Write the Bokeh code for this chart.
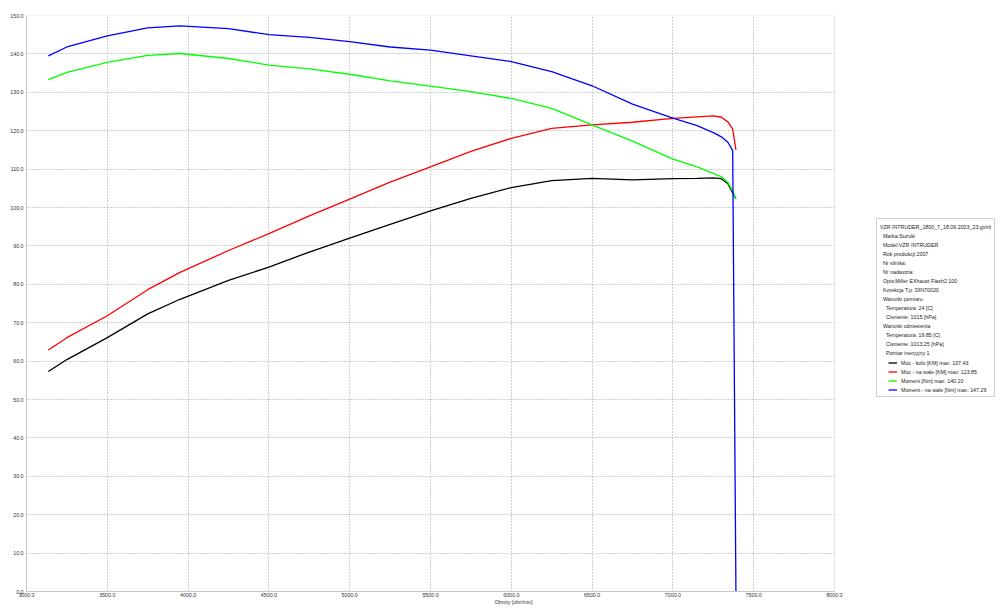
from bokeh.plotting import figure
from bokeh.models import (Legend, LegendItem, NumeralTickFormatter, FixedTicker, Range1d,
                          BoxAnnotation)
from bokeh.embed import file_html
from bokeh.resources import INLINE

rpm = [3135, 3250, 3500, 3750, 3950, 4250, 4500, 4750, 5000, 5250, 5500, 5750,
       6000, 6250, 6500, 6750, 7000, 7150, 7250, 7300, 7340, 7370, 7390]
moc_kolo = [57.3, 60.4, 66.1, 72.3, 76.1, 81.0, 84.5, 88.4, 92.0, 95.6, 99.1, 102.4,
            105.2, 107.0, 107.6, 107.2, 107.5, 107.6, 107.7, 107.5, 106.2, 103.8, 102.2]
moc_wal = [62.9, 66.1, 71.8, 78.6, 83.1, 88.8, 93.2, 97.8, 102.2, 106.6, 110.6, 114.6,
           118.0, 120.6, 121.5, 122.2, 123.2, 123.6, 123.85, 123.5, 122.3, 120.4, 115.0]
moment = [133.3, 135.2, 137.8, 139.6, 140.1, 138.8, 137.1, 136.1, 134.7, 133.0, 131.6, 130.2,
          128.4, 125.8, 121.5, 117.3, 112.6, 110.6, 108.9, 108.0, 106.6, 104.2, 102.2]
moment_wal = [139.5, 141.8, 144.7, 146.8, 147.29, 146.6, 145.0, 144.3, 143.2, 141.8, 141.0, 139.5,
              138.0, 135.4, 131.7, 126.9, 123.3, 121.3, 119.5, 118.4, 117.0, 114.8, 0.0]

x_ticks = [3000, 3500, 4000, 4500, 5000, 5500, 6000, 6500, 7000, 7500, 8000]
y_ticks = [0, 10, 20, 30, 40, 50, 60, 70, 80, 90, 100, 110, 120, 130, 140, 150]
X_MIN, X_MAX, Y_MIN, Y_MAX = 3000, 8000, 0, 150

series_labels = ["Moc - kolo [KM] max: 107.43", "Moc - na wale [KM] max: 123.85",
                 "Moment [Nm] max: 140.10", "Moment - na wale [Nm] max: 147.29"]
series_colors = ["#000000", "#ff0000", "#00ff00", "#0000ff"]

NB = "\u00a0"
info_lines = [
    "VZR INTRUDER_1800_7_18.09.2023_23.gxml",
    NB * 2 + "Marka:Suzuki",
    NB * 2 + "Model:VZR INTRUDER",
    NB * 2 + "Rok produkcji:2007",
    NB * 2 + "Nr silnika:",
    NB * 2 + "Nr nadwozia:",
    NB * 2 + "Opis:Miller EXhaust Flash2 100",
    NB * 2 + "Korekcja T.p: DIN70020",
    NB * 2 + "Warunki pomiaru",
    NB * 4 + "Temperatura: 24 [C]",
    NB * 4 + "Cisnienie: 1015 [hPa]",
    NB * 2 + "Warunki odniesienia",
    NB * 4 + "Temperatura: 19.85 [C]",
    NB * 4 + "Cisnienie: 1013.25 [hPa]",
    NB * 4 + "Pomiar inercyjny 1",
]

FONT = "Liberation Sans"
FS = "5.3px"
ROW = 9

# layout: data area 808 px wide starting at x=26; the frame runs on to the right edge
LEFT, TOP, BOTTOM = 26, 15, 19
W, H = 1000, 610
DATA_W = 808
frame_w = W - LEFT
x_end = X_MIN + (X_MAX - X_MIN) * frame_w / DATA_W

p = figure(width=W, height=H, output_backend="svg", toolbar_location=None,
           x_range=Range1d(X_MIN, x_end), y_range=Range1d(Y_MIN, Y_MAX),
           min_border_left=LEFT, min_border_right=0, min_border_top=TOP,
           min_border_bottom=BOTTOM)

renderers = []
for ys, c in zip([moc_kolo, moc_wal, moment, moment_wal], series_colors):
    r = p.line(rpm, ys, line_color=c, line_width=1.3)
    renderers.append(r)

p.xaxis.ticker = FixedTicker(ticks=x_ticks)
p.yaxis.ticker = FixedTicker(ticks=y_ticks)
p.xaxis.formatter = NumeralTickFormatter(format="0.0")
p.yaxis.formatter = NumeralTickFormatter(format="0.0")
p.xaxis.bounds = (X_MIN, X_MAX)
for ax in [p.xaxis[0], p.yaxis[0]]:
    ax.major_tick_out = 0
    ax.major_tick_in = 0
    ax.minor_tick_out = 0
    ax.minor_tick_in = 0
    ax.axis_line_color = "#c8c8c8"
    ax.major_label_text_font = FONT
    ax.major_label_text_font_size = FS
    ax.major_label_text_color = "#333333"
    ax.major_label_standoff = 3
p.xaxis.axis_label = "Obroty [obr/min]"
p.xaxis.axis_label_text_font = FONT
p.xaxis.axis_label_text_font_size = FS
p.xaxis.axis_label_text_font_style = "normal"
p.xaxis.axis_label_text_color = "#333333"
p.xaxis.axis_label_standoff = -1
p.xaxis.major_label_standoff = 1

p.grid.grid_line_color = "#a0a0a0"
p.grid.grid_line_dash = "1 2"
p.grid.grid_line_width = 1
p.outline_line_color = None
p.background_fill_color = "white"
p.border_fill_color = "white"

# blank area right of the data area, and a light border round the data area
p.add_layout(BoxAnnotation(left=X_MAX, fill_color="white", fill_alpha=1.0, line_alpha=0))
p.add_layout(BoxAnnotation(left=X_MIN, right=X_MAX, bottom=Y_MIN, top=Y_MAX,
                           fill_alpha=0, line_color="#c8c8c8", line_width=1))

# info box: description lines plus empty rows that the series legend sits on
PAD = 3
n_rows = len(info_lines) + len(series_labels)
box_left, box_top = 876, 220
box_h = 2 * PAD + n_rows * ROW
info_legend = Legend(
    items=[LegendItem(label=t, renderers=[]) for t in info_lines] +
          [LegendItem(label=NB, renderers=[]) for _ in series_labels],
    location=(box_left - LEFT, (H - BOTTOM) - (box_top + box_h)),
    orientation="vertical",
    label_text_font=FONT, label_text_font_size=FS, label_text_color="#222222",
    label_height=ROW, glyph_height=ROW, glyph_width=0, label_standoff=0, spacing=0,
    padding=PAD, margin=0,
    border_line_color="#a0a0a0", border_line_width=1,
    background_fill_color="white", background_fill_alpha=1.0,
)
p.add_layout(info_legend, "center")

series_top = box_top + PAD + len(info_lines) * ROW
series_h = len(series_labels) * ROW
series_legend = Legend(
    items=[LegendItem(label=l, renderers=[r]) for l, r in zip(series_labels, renderers)],
    location=(box_left + 12 - LEFT, (H - BOTTOM) - (series_top + series_h)),
    orientation="vertical",
    label_text_font=FONT, label_text_font_size=FS, label_text_color="#222222",
    label_height=ROW, glyph_height=ROW, glyph_width=9, label_standoff=4, spacing=0,
    padding=0, margin=0,
    border_line_alpha=0, background_fill_alpha=0,
)
p.add_layout(series_legend, "center")

open("out.html", "w").write(file_html(p, INLINE))
